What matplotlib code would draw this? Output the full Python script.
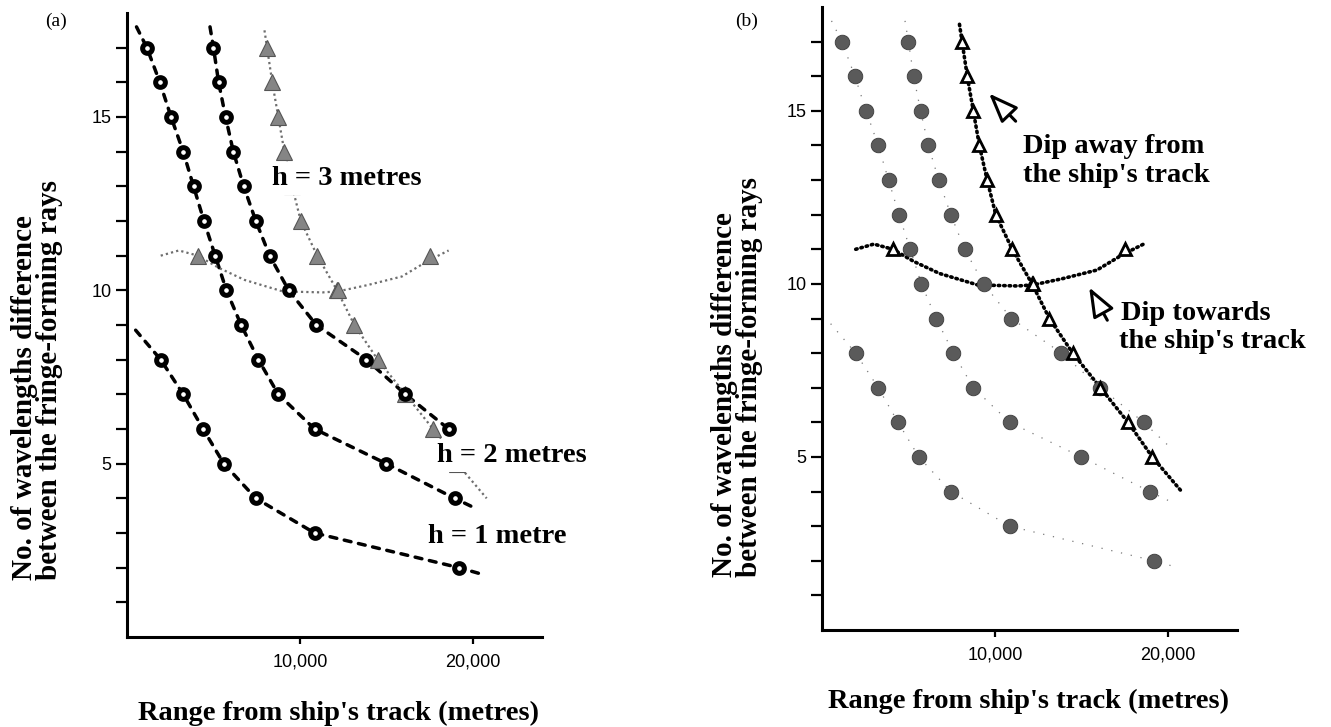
import matplotlib.pyplot as plt

plt.rcParams['font.family'] = ['Liberation Sans', 'DejaVu Sans']
SERIF = ['Liberation Serif', 'DejaVu Serif']

# fringe order (no. of wavelengths) against range (m)
h1_n = [8, 7, 6, 5, 4, 3, 2]
h1_r = [1950, 3250, 4400, 5600, 7450, 10850, 19200]
h2_n = [17, 16, 15, 14, 13, 12, 11, 10, 9, 8, 7, 6, 5, 4]
h2_r = [1150, 1900, 2550, 3250, 3850, 4450, 5100, 5750, 6600, 7600, 8750,
        10850, 15000, 18950]
h3_n = [17, 16, 15, 14, 13, 12, 11, 10, 9, 8, 7, 6]
h3_r = [5000, 5300, 5700, 6150, 6750, 7450, 8250, 9350, 10950, 13850, 16100,
        18600]

# dipping bed: away from / towards the ship's track
away_n = [17, 16, 15, 14, 13, 12, 11, 10, 9, 8, 7, 6, 5]
away_r = [8100, 8400, 8750, 9100, 9550, 10050, 11000, 12150, 13150, 14500,
          16100, 17700, 19100]
towards_n = [11, 10, 11]
towards_r = [4100, 12200, 17500]
towards_curve_r = [1950, 3000, 4100, 5300, 6800, 9000, 11300, 12200, 13900,
                   15900, 17400, 18600]
towards_curve_n = [11.0, 11.15, 11.0, 10.65, 10.3, 9.97, 9.94, 9.97, 10.15,
                   10.4, 10.85, 11.15]

# where the drawn curves run out beyond the first / last point
h1_ends = [(500, 8.85), (20600, 1.8)]
h2_ends = [(550, 17.6), (20200, 3.7)]
h3_ends = [(4800, 17.6), (20300, 5.2)]
away_ends = [(7950, 17.5), (20800, 4.0)]

W, H = 1331, 727
fig = plt.figure(figsize=(W / 100, H / 100), dpi=100)


def fx(x):
    return x / W


def fy(y):
    return 1 - y / H


def path(r, n, ends):
    return ([ends[0][0]] + r + [ends[1][0]], [ends[0][1]] + n + [ends[1][1]])


def setup(ax):
    ax.set_xlim(0, 24000)
    ax.set_ylim(0, 18)
    for s in ['top', 'right']:
        ax.spines[s].set_visible(False)
    for s in ['left', 'bottom']:
        ax.spines[s].set_linewidth(2.2)
    ax.set_xticks([10000, 20000], ['10,000', '20,000'])
    ax.set_yticks([5, 10, 15])
    ax.set_yticks(range(1, 18), minor=True)
    ax.tick_params(axis='y', which='both', length=8, width=1.6, labelsize=13,
                   pad=3)
    ax.tick_params(axis='x', length=5, width=1.6, labelsize=13, pad=7)


label_kw = dict(fontsize=20.5, weight='bold', family=SERIF)
ylab = 'No. of wavelengths difference\nbetween the fringe-forming rays'
ylab_kw = dict(rotation=90, ha='center', va='bottom', multialignment='left',
               linespacing=0.95, fontsize=21, weight='bold', family=SERIF)
box = dict(facecolor='white', edgecolor='none', pad=3)

# ---- (a)
ax = fig.add_axes([fx(127), fy(637), 415 / W, 624 / H])
setup(ax)
dash = dict(color='black', lw=2.5, ls=(0, (2, 2.2)), dash_capstyle='round')
ax.plot(*path(h1_r, h1_n, h1_ends), **dash)
ax.plot(*path(h2_r, h2_n, h2_ends), **dash)
ax.plot(*path(h3_r, h3_n, [h3_ends[0], (h3_r[-1], h3_n[-1])]), **dash)
grey = dict(color='#6e6e6e', lw=1.6, ls=(0, (1, 1.4)))
ax.plot(*path(away_r, away_n, away_ends), **grey)
ax.plot(towards_curve_r, towards_curve_n, **grey)
ax.plot(away_r, away_n, '^', ms=11, color='#858585', mec='#555555', mew=0.8,
        zorder=3)
ax.plot(towards_r, towards_n, '^', ms=11, color='#858585', mec='#555555',
        mew=0.8, zorder=3)
for r, n in [(h1_r, h1_n), (h2_r, h2_n), (h3_r, h3_n)]:
    ax.plot(r, n, 'o', ms=7, mfc='white', mec='black', mew=3.6, zorder=4)

fig.text(fx(45), fy(26), '(a)', fontsize=14, family=SERIF)
fig.text(fx(272), fy(185), 'h = 3 metres', va='baseline', bbox=box, **label_kw)
fig.text(fx(437), fy(462), 'h = 2 metres', va='baseline', bbox=box, **label_kw)
fig.text(fx(428), fy(543), 'h = 1 metre', va='baseline', bbox=box, **label_kw)
fig.text(fx(338), fy(720), "Range from ship's track (metres)", ha='center',
         va='baseline', **label_kw)
fig.text(fx(37), fy(580), ylab, **ylab_kw)

# ---- (b)
ax = fig.add_axes([fx(822), fy(630), 415 / W, 623 / H])
setup(ax)
faint = dict(color='#7a7a7a', lw=0.9, ls=(0, (1, 7)))
ax.plot(*path(h1_r, h1_n, h1_ends), **faint)
ax.plot(*path(h2_r, h2_n, h2_ends), **faint)
ax.plot(*path(h3_r, h3_n, h3_ends), **faint)
for r, n in [(h1_r, h1_n), (h2_r, h2_n), (h3_r, h3_n)]:
    ax.plot(r, n, 'o', ms=10.5, color='#5a5a5a', mec='#3a3a3a', mew=0.6,
            zorder=3)
bold = dict(color='black', lw=2.6, ls=(0, (0.4, 1.1)), dash_capstyle='round')
ax.plot(*path(away_r, away_n, away_ends), **bold)
ax.plot(towards_curve_r, towards_curve_n, **bold)
ax.plot(away_r, away_n, '^', ms=9, mfc='white', mec='black', mew=2, zorder=4)
ax.plot(towards_r, towards_n, '^', ms=9, mfc='white', mec='black', mew=2,
        zorder=4)

arrow = dict(arrowstyle='-|>,head_length=0.9,head_width=0.35', fc='white',
             ec='black', lw=2.2, shrinkA=0, shrinkB=0, mutation_scale=20)
ax.annotate('', xy=(9660, 15.5), xytext=(11200, 14.7), arrowprops=arrow)
ax.annotate('', xy=(15450, 9.9), xytext=(16500, 8.95), arrowprops=arrow)

fig.text(fx(735), fy(26), '(b)', fontsize=14, family=SERIF)
fig.text(fx(1023), fy(153), 'Dip away from', va='baseline', **label_kw)
fig.text(fx(1023), fy(182), "the ship's track", va='baseline', **label_kw)
fig.text(fx(1121), fy(320), 'Dip towards', va='baseline', **label_kw)
fig.text(fx(1119), fy(348), "the ship's track", va='baseline', **label_kw)
fig.text(fx(1028), fy(708), "Range from ship's track (metres)", ha='center',
         va='baseline', **label_kw)
fig.text(fx(737), fy(577), ylab, **ylab_kw)

fig.savefig('out.png', dpi=100)
